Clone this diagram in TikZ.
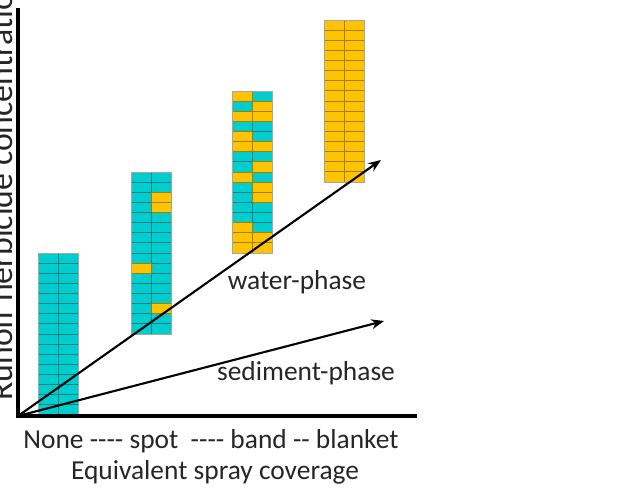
\documentclass[tikz,border=0pt]{standalone}
\usepackage{fontspec}
\setmainfont{Carlito}[Ligatures=TeXOff]
\usetikzlibrary{arrows.meta, positioning}
\definecolor{cellcyan}{HTML}{00CDCD}
\definecolor{linecyan}{HTML}{0B7F85}
\definecolor{cellgold}{HTML}{FFC400}
\definecolor{linegold}{HTML}{A67E00}
\definecolor{labeltext}{HTML}{262626}
\tikzset{
  cyancell/.style={fill=cellcyan, draw=linecyan, line width=0.6pt},
  goldcell/.style={fill=cellgold, draw=linegold, line width=0.6pt},
  stackframe/.style={draw=black!35, line width=0.6pt},
  axisline/.style={line width=2.2pt, line cap=rect},
  trendarrow/.style={line width=1.5pt, -{Stealth[length=9pt, width=7pt]}},
  axislabel/.style={font=\fontsize{19.5}{23}\selectfont, text=labeltext, inner sep=0pt}
}
\begin{document}
\begin{tikzpicture}[x=0.025cm, y=-0.025cm]
  \useasboundingbox (0,0) rectangle (633,492);
  \clip (0,0) rectangle (633,492);

  % none: all cyan
  \foreach \r in {0,...,15}
    \foreach \c in {0,1}
      \draw[cyancell] ({38+20*\c},{253+10.125*\r}) rectangle ++(20,10.125);
  \draw[stackframe] (38,253) rectangle (78,415);

  % spot
  \foreach \r in {0,...,15}
    \foreach \c in {0,1}
      \draw[cyancell] ({131+20*\c},{172+10.125*\r}) rectangle ++(20,10.125);
  \foreach \r/\c in {2/1, 3/1, 9/0, 13/1}
    \draw[goldcell] ({131+20*\c},{172+10.125*\r}) rectangle ++(20,10.125);
  \draw[stackframe] (131,172) rectangle (171,334);

  % band
  \foreach \r in {0,...,15}
    \foreach \c in {0,1}
      \draw[cyancell] ({232+20*\c},{91+10.125*\r}) rectangle ++(20,10.125);
  \foreach \r/\c in {0/0, 1/1, 2/0, 2/1, 4/0, 5/0, 5/1, 7/1, 8/0, 9/1, 10/1,
                     13/0, 14/0, 14/1, 15/0, 15/1}
    \draw[goldcell] ({232+20*\c},{91+10.125*\r}) rectangle ++(20,10.125);
  \draw[stackframe] (232,91) rectangle (272,253);

  % blanket: all gold
  \foreach \r in {0,...,15}
    \foreach \c in {0,1}
      \draw[goldcell] ({324+20*\c},{20+10.125*\r}) rectangle ++(20,10.125);
  \draw[stackframe] (324,20) rectangle (364,182);

  % axes
  \coordinate (origin) at (18,416);
  \coordinate (ytop) at (18,10);
  \coordinate (xend) at (415,416);
  \draw[axisline] (ytop) -- (origin) -- (xend);

  % trends
  \coordinate (waterend) at (381,160);
  \coordinate (sedend) at (384,321);
  \draw[trendarrow] (origin) -- (waterend);
  \draw[trendarrow] (origin) -- (sedend);

  \node[axislabel, anchor=base] (waterlabel) at (297,290) {water-phase};
  \node[axislabel, anchor=base] (sedlabel) at (306,380) {sediment-phase};

  \node[axislabel, anchor=base] (coverage) at (211,449) {None ---- spot~~---- band -- blanket};
  \node[axislabel, anchor=base] (xtitle) at (215,479) {Equivalent spray coverage};
  \node[axislabel, anchor=base west, rotate=90, font=\fontsize{24}{28}\selectfont]
    (ytitle) at (13,401) {Runoff herbicide concentration};
\end{tikzpicture}
\end{document}
